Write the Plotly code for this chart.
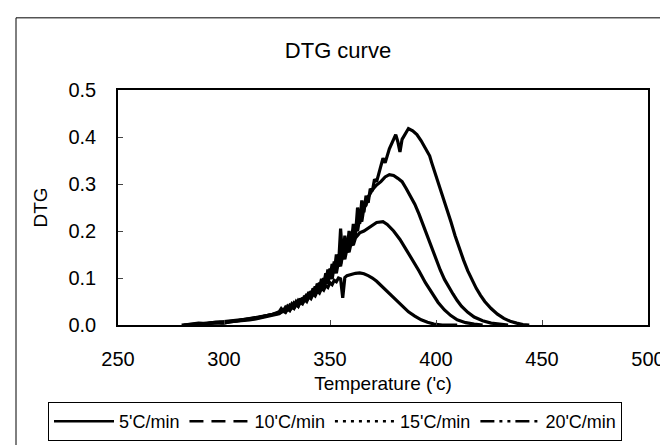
import plotly.graph_objects as go

# ---------------- data ----------------
T5 = [280, 285, 288, 291, 294, 297, 300, 303, 306, 309, 312, 315, 318, 321, 324,
      326, 328, 329, 330, 331, 332, 333, 334, 335, 336, 337, 338, 339, 340, 341, 342, 343, 344, 345, 346,
      347, 348, 349, 350, 351, 352, 353, 354, 355, 356, 357, 358,
      360, 362, 364, 366, 368, 370, 372, 375, 378, 381, 384, 387, 390, 393, 396, 399, 403, 410]
D5 = [0, 0.001, 0.003, 0.002, 0.004, 0.005, 0.004, 0.007, 0.008, 0.01, 0.011, 0.013, 0.016, 0.019, 0.022,
      0.024, 0.03, 0.027, 0.034, 0.031, 0.038, 0.035, 0.043, 0.04, 0.048, 0.045, 0.054, 0.05, 0.06, 0.056, 0.066, 0.062, 0.072, 0.068, 0.078,
      0.074, 0.084, 0.08, 0.09, 0.086, 0.095, 0.092, 0.1, 0.098, 0.058, 0.101, 0.105,
      0.108, 0.11, 0.111, 0.109, 0.105, 0.1, 0.093, 0.08, 0.066, 0.052, 0.039, 0.028, 0.019, 0.011, 0.006, 0.002, 0, 0]

T10 = [285, 290, 294, 298, 302, 306, 310, 314, 318, 322,
       326, 328, 329, 330, 331, 332, 333, 334, 335, 336, 337, 338, 339, 340, 341, 342, 343, 344, 345, 346,
       347, 348, 349, 350, 351, 352, 353, 354, 355, 356, 357, 358, 359, 360, 361, 362,
       364, 366, 368, 370, 372, 375, 377, 380, 383, 386, 389, 392, 395, 398, 401, 404, 407, 410, 414, 418, 422]
D10 = [0, 0.002, 0.004, 0.005, 0.008, 0.009, 0.012, 0.015, 0.018, 0.022,
       0.025, 0.03, 0.027, 0.035, 0.031, 0.04, 0.036, 0.045, 0.04, 0.052, 0.046, 0.058, 0.052, 0.065, 0.058, 0.072, 0.064, 0.08, 0.07, 0.088,
       0.078, 0.098, 0.088, 0.11, 0.098, 0.125, 0.11, 0.135, 0.125, 0.15, 0.14, 0.162, 0.155, 0.175, 0.17, 0.185,
       0.196, 0.2, 0.206, 0.212, 0.218, 0.22, 0.214, 0.2, 0.182, 0.16, 0.138, 0.115, 0.09, 0.068, 0.048, 0.032, 0.02, 0.011, 0.005, 0.002, 0]

T15 = [283, 287, 291, 295, 299, 303, 307, 311, 315, 319, 323,
       326, 327, 328, 329, 330, 331, 332, 333, 334, 335, 336, 337, 338, 339, 340, 341, 342, 343, 344, 345,
       346, 347, 348, 349, 350, 351, 352, 353, 354, 355, 356, 357, 358, 359, 360, 361, 362, 363, 364, 365,
       366, 367, 368,
       370, 372, 374, 376, 378, 380, 382, 384, 386, 388, 390, 392, 394, 396, 398, 400, 402, 404, 406, 408,
       410, 412, 415, 418, 422, 426, 430, 434]
D15 = [0, 0.002, 0.003, 0.005, 0.004, 0.007, 0.009, 0.012, 0.014, 0.018, 0.022,
       0.026, 0.03, 0.033, 0.031, 0.04, 0.036, 0.045, 0.04, 0.05, 0.044, 0.056, 0.05, 0.062, 0.056, 0.07, 0.062, 0.078, 0.07, 0.088, 0.078,
       0.098, 0.086, 0.11, 0.095, 0.12, 0.105, 0.135, 0.118, 0.15, 0.13, 0.165, 0.145, 0.18, 0.162, 0.195, 0.18, 0.21, 0.2, 0.228, 0.22,
       0.25, 0.255, 0.272,
       0.288, 0.298, 0.305, 0.315, 0.32, 0.318, 0.312, 0.305, 0.29, 0.275, 0.257, 0.236, 0.212, 0.188, 0.163, 0.14, 0.117, 0.097, 0.08, 0.066,
       0.052, 0.04, 0.027, 0.017, 0.009, 0.004, 0.002, 0]

T20 = [281, 284, 288, 292, 296, 300, 304, 308, 312, 316, 320, 323,
       326, 327, 328, 329, 330, 331, 332, 333, 334, 335, 336, 337, 338, 339, 340, 341, 342, 343, 344, 345,
       346, 347, 348, 349, 350, 351, 352, 353, 354, 355, 356, 357, 358, 359, 360, 361, 362, 363, 364, 365,
       366, 367, 368, 369, 370, 371, 372,
       374, 375, 376, 377, 378, 380, 381, 382, 383, 384, 386, 387, 389, 391, 393, 395, 396, 397, 398, 400,
       402.5, 405, 407, 409, 411, 413, 415, 417, 419, 421, 423, 426, 429, 432, 435, 438, 441, 444]
D20 = [0, 0.002, 0.004, 0.003, 0.006, 0.007, 0.009, 0.01, 0.013, 0.016, 0.02, 0.023,
       0.028, 0.035, 0.03, 0.038, 0.034, 0.042, 0.038, 0.047, 0.043, 0.052, 0.046, 0.058, 0.052, 0.066, 0.058, 0.072, 0.064, 0.082, 0.07, 0.09,
       0.078, 0.1, 0.088, 0.118, 0.1, 0.13, 0.112, 0.15, 0.125, 0.205, 0.14, 0.19, 0.155, 0.2, 0.172, 0.215, 0.19, 0.25, 0.215, 0.265,
       0.24, 0.275, 0.26, 0.29, 0.285, 0.31, 0.305,
       0.335, 0.355, 0.345, 0.36, 0.375, 0.395, 0.405, 0.39, 0.368, 0.395, 0.41, 0.418, 0.413, 0.405, 0.392, 0.375, 0.368, 0.36, 0.345, 0.318,
       0.285, 0.25, 0.22, 0.19, 0.163, 0.138, 0.115, 0.095, 0.078, 0.063, 0.05, 0.035, 0.023, 0.014, 0.008, 0.004, 0.001, 0]

SERIES = [("5'C/min", T5, D5, "solid"),
          ("10'C/min", T10, D10, "14px,8px"),
          ("15'C/min", T15, D15, "3px,5px"),
          ("20'C/min", T20, D20, "14px,5px,3px,5px,3px,5px")]

X_TICKS = [250, 300, 350, 400, 450, 500]
Y_TICKS = [0.0, 0.1, 0.2, 0.3, 0.4, 0.5]

# ---------------- figure ----------------
W, H = 668, 445
ML, MR, MT, MB = 110, 28, 82, 122
PW, PH = W - ML - MR, H - MT - MB
FONT = "Arial, 'Liberation Sans', Helvetica, sans-serif"

fig = go.Figure()
for name, t, d, dash in SERIES:
    fig.add_trace(go.Scatter(x=t, y=d, mode="lines", showlegend=False,
                             line=dict(color="black", width=3.2)))
for name, t, d, dash in SERIES:
    fig.add_trace(go.Scatter(x=[None], y=[None], mode="lines", name=name,
                             line=dict(color="black", width=2.5, dash=dash)))


def px_to_paper_x(p):
    return (p - ML) / PW


def px_to_paper_y(p):
    return (H - MB - p) / PH


fig.add_shape(type="rect", xref="paper", yref="paper",
              x0=px_to_paper_x(8), x1=px_to_paper_x(675),
              y0=px_to_paper_y(455), y1=px_to_paper_y(8),
              line=dict(color="black", width=1), layer="below")

fig.update_layout(
    width=W, height=H,
    margin=dict(l=ML, r=MR, t=MT, b=MB),
    paper_bgcolor="white", plot_bgcolor="white",
    font=dict(family=FONT, size=18, color="black"),
    title=dict(text="DTG curve", x=330 / W, xanchor="center", xref="container",
               y=1 - 42 / H, yanchor="middle", yref="container",
               font=dict(size=22)),
    xaxis=dict(range=[250, 500], tickvals=X_TICKS, ticks="inside", ticklen=5,
               showline=True, linecolor="black", linewidth=1.5, mirror=True,
               showgrid=False, zeroline=False, ticklabelstandoff=15,
               tickfont=dict(size=20),
               title=dict(text="Temperature ('c)", standoff=8, font=dict(size=19))),
    yaxis=dict(range=[0, 0.5], tickvals=Y_TICKS, tickformat=".1f", ticks="inside", ticklen=5,
               showline=True, linecolor="black", linewidth=1.5, mirror=True,
               showgrid=False, zeroline=False, ticklabelstandoff=16,
               tickfont=dict(size=20),
               title=dict(text="DTG", standoff=16, font=dict(size=19))),
    legend=dict(orientation="h", xref="paper", yref="paper",
                x=px_to_paper_x(40), xanchor="left",
                y=px_to_paper_y(422), yanchor="middle",
                bordercolor="black", borderwidth=1, bgcolor="white",
                itemwidth=60, font=dict(size=18), tracegroupgap=0),
)

fig.write_html("out.html")
